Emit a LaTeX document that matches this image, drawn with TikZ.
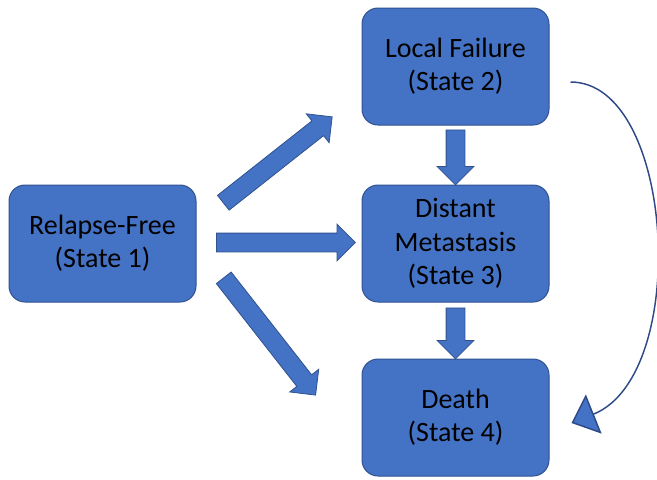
\documentclass[tikz,border=0pt]{standalone}
\usepackage{fontspec}
\setmainfont{Carlito}
\usepackage{tikz}
\usetikzlibrary{arrows.meta,shapes.arrows,calc}
\definecolor{boxfill}{HTML}{4472C4}
\definecolor{boxline}{HTML}{2F528F}
\definecolor{curveline}{HTML}{2E4A86}
\tikzstyle{state}=[rectangle, rounded corners=12pt, draw=boxline, line width=0.75pt, fill=boxfill, minimum width=140.25pt, minimum height=87.75pt, align=center, font=\fontsize{21}{25}\selectfont]
\tikzstyle{block edge}=[single arrow, draw=boxline, line width=0.6pt, fill=boxfill, inner xsep=0pt, inner ysep=6.75pt, single arrow head extend=6.75pt, single arrow tip angle=90]
\tikzstyle{curve edge}=[draw=curveline, line width=1.1pt, -{Triangle[width=31.5pt, length=18pt, fill=boxfill]}]
\newcommand{\blockarrow}[2]{%
  \path let \p1=(#1), \p2=(#2), \n1={atan2(\y2-\y1,\x2-\x1)}, \n2={veclen(\x2-\x1,\y2-\y1)} in
    node[block edge, rotate=\n1, minimum height=\n2, anchor=tail] at (\p1) {};}

\begin{document}
\begin{tikzpicture}[x=0.75pt, y=-0.75pt]
    \useasboundingbox (0,0) rectangle (657,479);
    % First we draw the states
    \foreach \pos/\name/\txt in {{(102.5,243.5)/S1/{Relapse-Free\\(State 1)}}, {(455.5,66.5)/S2/{Local Failure\\(State 2)}}, {(455.5,243.5)/S3/{Distant\\Metastasis\\(State 3)}}, {(455.5,417.5)/S4/{Death\\(State 4)}}}
        \node[state] (\name) at \pos {\txt};

    % Free ends of the block arrows
    \coordinate (t12) at (223,203);
    \coordinate (h12) at (332,117);
    \coordinate (t13) at (216,242.5);
    \coordinate (h13) at (355,242.5);
    \coordinate (t14) at (223.5,277.5);
    \coordinate (h14) at (315.5,395);
    \coordinate (t23) at ($(S2.south)+(0,4)$);
    \coordinate (t34) at ($(S3.south)+(0,5)$);

    % Connect states with block arrows
    \foreach \source/\dest in {t12/h12, t13/h13, t14/h14, t23/S3.north, t34/S4.north}
        {\blockarrow{\source}{\dest}}

    % The long way round from state 2 to state 4
    \coordinate (c2) at ($(S2.east)+(21,15.5)$);
    \coordinate (c4) at ($(S4.east)+(22,5.5)$);
    \draw[curve edge] (c2) .. controls (675,82) and (691,375) .. (c4);
\end{tikzpicture}
\end{document}
